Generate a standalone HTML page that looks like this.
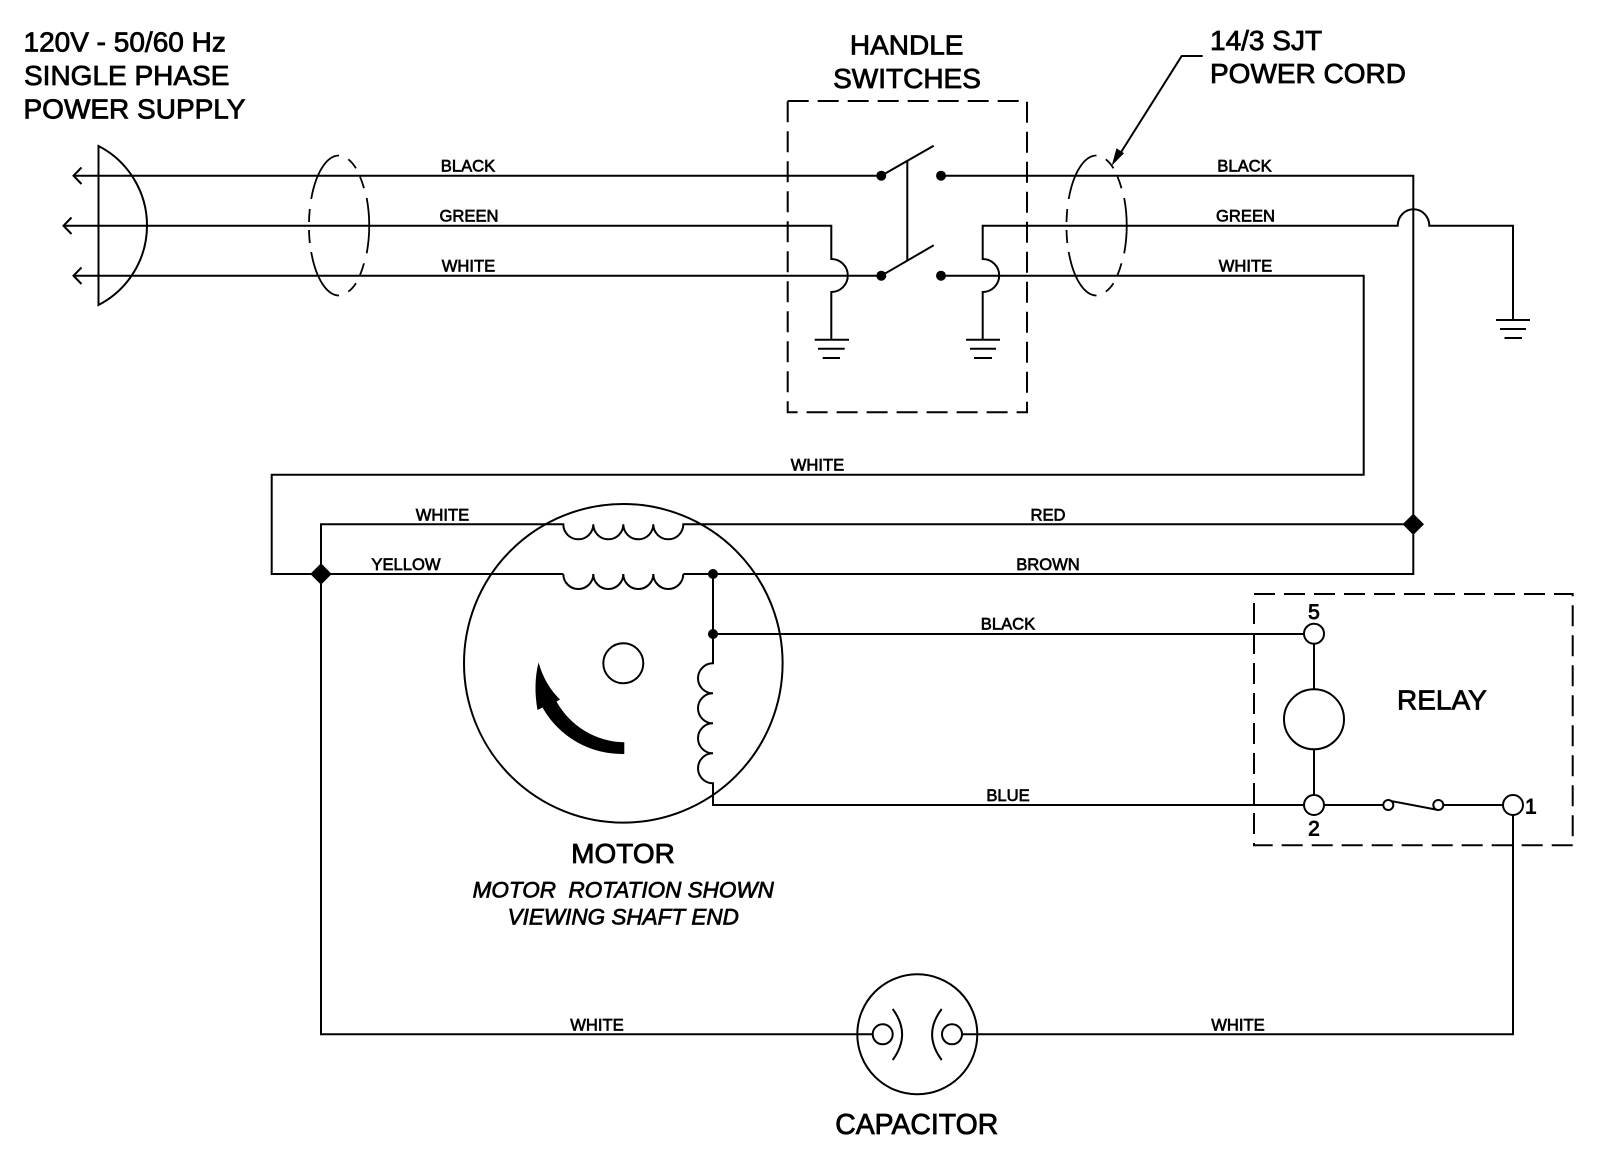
<!DOCTYPE html>
<html>
<head>
<meta charset="utf-8">
<style>
html,body{margin:0;padding:0;background:#fff}
svg{display:block}
text{font-family:"Liberation Sans",Arial,sans-serif;fill:#000;stroke:#000;stroke-width:.8px;white-space:pre}
.t{font-size:28px}
.l{font-size:16.6px;text-anchor:middle;stroke-width:.65px}
.c{text-anchor:middle}
.i{font-size:22.5px;font-style:italic;text-anchor:middle;stroke-width:.7px}
.n{font-size:21px;stroke-width:.9px}
.w{fill:none;stroke:#000;stroke-width:2;stroke-linejoin:miter}
.d{fill:none;stroke:#000;stroke-width:2;stroke-dasharray:21 9}
.e{fill:none;stroke:#000;stroke-width:1.8}
.f{fill:#000;stroke:none}
.h{fill:#fff;stroke:#000;stroke-width:2}
</style>
</head>
<body>
<svg xmlns="http://www.w3.org/2000/svg" width="1600" height="1151" viewBox="0 0 1600 1151">
<rect width="1600" height="1151" fill="#fff"/>

<!-- Plug -->
<path class="w" d="M98.5 146V305A89.4 89.4 0 0 0 98.5 146Z"/>
<path class="w" d="M81.5 167.5L73.5 175.7L81.5 184M71.5 217.5L63.5 225.7L71.5 234M81.5 267.5L73.5 275.7L81.5 284"/>

<!-- Main wires, top row -->
<path class="w" d="M73.5 175.7H881"/>
<path class="w" d="M63.5 225.7H831.3V259A16.5 16.5 0 0 1 831.3 292V339.7"/>
<path class="w" d="M73.5 275.7H881"/>
<path class="w" d="M941 175.7H1413.3V574H683.3"/>
<path class="w" d="M982.7 339.7V292A16.5 16.5 0 0 0 982.7 259V225.7H1397.7A15.8 16.4 0 0 1 1429.3 225.7H1513V320"/>
<path class="w" d="M941 275.7H1363.7V474.7H271.7V574H563.3"/>

<!-- Grounds -->
<path class="w" d="M814.7 339.7H849M818 348.7H844.7M822.7 358H840"/>
<path class="w" d="M966 339.7H1000M970 348.7H996M974 358H992"/>
<path class="w" d="M1496 320H1530M1500 329H1526M1504.500 338H1522"/>

<!-- Switch -->
<circle class="f" cx="881.300" cy="175.700" r="5"/>
<circle class="f" cx="941" cy="175.700" r="5"/>
<circle class="f" cx="881.300" cy="275.700" r="5"/>
<circle class="f" cx="941" cy="275.700" r="5"/>
<path class="w" d="M881.300 175.700L933.700 145.700M881.300 275.700L933.700 245.300M907.300 161V260.500"/>
<rect class="d" x="787.700" y="101" width="239.300" height="311.300"/>

<!-- Cable ellipses -->
<g class="e">
<path class="e" d="M339 155.500A30 70 0 0 0 311.200 199M309.800 209A30 70 0 0 0 309 222M309 230A30 70 0 0 0 309.800 243M311.200 252A30 70 0 0 0 339 295.500M348.300 291.700A30 70 0 0 0 356 283.300M360 275A30 70 0 0 0 364 263.300M366.700 253.300A30 70 0 0 0 366.700 198M364 188.300A30 70 0 0 0 360 176.700M356 168.300A30 70 0 0 0 348.300 159.300"/>
<path class="e" transform="translate(757.500 0)" d="M339 155.500A30 70 0 0 0 311.200 199M309.800 209A30 70 0 0 0 309 222M309 230A30 70 0 0 0 309.800 243M311.200 252A30 70 0 0 0 339 295.500M348.300 291.700A30 70 0 0 0 356 283.300M360 275A30 70 0 0 0 364 263.300M366.700 253.300A30 70 0 0 0 366.700 198M364 188.300A30 70 0 0 0 360 176.700M356 168.300A30 70 0 0 0 348.300 159.300"/>
</g>

<!-- Leader -->
<path class="w" d="M1202.700 56H1181.700L1118 157"/>
<path class="f" d="M1111.700 165.700L1116.500 148.300L1124 153.300Z"/>

<!-- Motor -->
<circle class="w" cx="623.300" cy="663.300" r="159.300"/>
<circle class="w" cx="623.300" cy="663.300" r="20"/>
<path class="w" d="M321 574V524.300H563.300A15 15 0 0 0 593.300 524.300A15 15 0 0 0 623.300 524.300A15 15 0 0 0 653.300 524.300A15 15 0 0 0 683.300 524.300H1413.300"/>
<path class="w" d="M563.300 574A15 15 0 0 0 593.300 574A15 15 0 0 0 623.300 574A15 15 0 0 0 653.300 574A15 15 0 0 0 683.300 574"/>
<path class="w" d="M713 574V663.300A15 15 0 0 0 713 693.300A15 15 0 0 0 713 723.300A15 15 0 0 0 713 753.300A15 15 0 0 0 713 783.300V805H1304"/>
<circle class="f" cx="713" cy="574" r="5"/>
<circle class="f" cx="713" cy="634" r="5"/>
<path class="w" d="M713 634H1304"/>
<path class="f" d="M624.300 742.300A79 79 0 0 1 556.500 701.500L560 699.500Q545 685 538.500 662.500Q533 685 537.500 710L542.500 707.500A91 91 0 0 0 624.300 754Z"/>

<!-- Diamonds -->
<path class="f" d="M321 563.300L331.700 574L321 584.700L310.300 574Z"/>
<path class="f" d="M1413.300 513.600L1424 524.300L1413.300 535L1402.600 524.300Z"/>

<!-- Relay -->
<rect class="d" x="1254" y="594" width="318.700" height="251.300"/>
<path class="w" d="M1314 643.700V689.300M1314 749.300V795M1324 805H1383.300M1443.300 805H1503M1388.300 800.500L1438.300 810M1513 815V1034.300H962"/>
<circle class="h" cx="1314" cy="633.700" r="10"/>
<circle class="h" cx="1314" cy="719.300" r="30"/>
<circle class="h" cx="1314" cy="805" r="10"/>
<circle class="h" cx="1388.300" cy="805" r="5"/>
<circle class="h" cx="1438.300" cy="805" r="5"/>
<circle class="h" cx="1513" cy="805" r="10"/>

<!-- Capacitor -->
<path class="w" d="M321 584V1034.300H872.700"/>
<circle class="w" cx="917.300" cy="1034.300" r="60"/>
<circle class="h" cx="882.700" cy="1034.300" r="10"/>
<circle class="h" cx="952" cy="1034.300" r="10"/>
<path class="w" d="M892.700 1009Q911.500 1034.300 892.700 1060M941.700 1009Q922.500 1034.300 941.700 1060"/>

<!-- Large text -->
<text class="t" x="23.500" y="51.700">120V - 50/60 Hz</text>
<text class="t" x="24" y="85">SINGLE PHASE</text>
<text class="t" x="23.500" y="118.300">POWER SUPPLY</text>
<text class="t c" x="906.700" y="54.700">HANDLE</text>
<text class="t c" x="907" y="88">SWITCHES</text>
<text class="t" x="1210" y="50">14/3 SJT</text>
<text class="t" x="1210" y="83">POWER CORD</text>
<text class="t" x="1397" y="709.700">RELAY</text>
<text class="t c" x="623" y="863">MOTOR</text>
<text class="i" x="623.300" y="897.700">MOTOR  ROTATION SHOWN</text>
<text class="i" x="623.300" y="924.300">VIEWING SHAFT END</text>
<text class="t c" x="916.700" y="1134" style="font-size:28.4px">CAPACITOR</text>

<!-- Wire labels -->
<text class="l" x="468" y="171.700">BLACK</text>
<text class="l" x="469" y="221.700">GREEN</text>
<text class="l" x="468.500" y="271.700">WHITE</text>
<text class="l" x="1244.500" y="171.700">BLACK</text>
<text class="l" x="1245.500" y="221.700">GREEN</text>
<text class="l" x="1245.500" y="271.700">WHITE</text>
<text class="l" x="817.500" y="470.700">WHITE</text>
<text class="l" x="442.500" y="520.300">WHITE</text>
<text class="l" x="406" y="570">YELLOW</text>
<text class="l" x="1048" y="520.300">RED</text>
<text class="l" x="1048" y="570">BROWN</text>
<text class="l" x="1008" y="629.700">BLACK</text>
<text class="l" x="1008" y="801">BLUE</text>
<text class="l" x="597" y="1030.300">WHITE</text>
<text class="l" x="1238" y="1030.300">WHITE</text>

<!-- Pin numbers -->
<text class="n c" x="1314" y="619">5</text>
<text class="n c" x="1314" y="835.700">2</text>
<text class="n" x="1525" y="813.300">1</text>
</svg>
</body>
</html>
